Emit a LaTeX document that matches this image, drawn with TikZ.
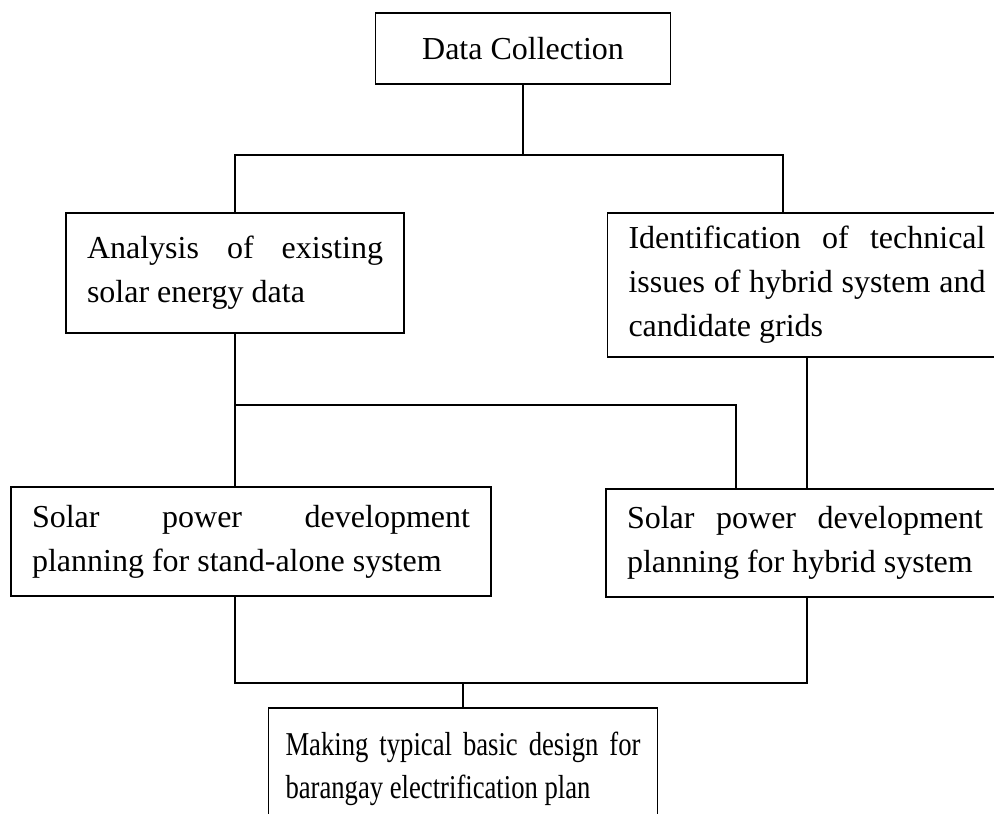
\documentclass[tikz,border=0pt]{standalone}
\usepackage{fontspec}
\setmainfont{Liberation Serif}
\newfontfamily\narrowserif[FakeStretch=0.8]{Liberation Serif}
\tolerance=10000
\hbadness=10000
\hyphenpenalty=10000
\exhyphenpenalty=10000
\tikzset{
  block/.style={
    draw, line width=1.4pt,
    inner xsep=15.75pt, inner ysep=0pt,
    font=\fontsize{24}{33}\selectfont,
    align=justify
  },
  link/.style={line width=1.4pt}
}

\begin{document}
\begin{tikzpicture}[x=0.75pt,y=-0.75pt]
    \fill[white] (0,0) rectangle (994,813);
    \useasboundingbox (0,0) rectangle (994,813);

    \node[block, align=center, minimum width=221.25pt, minimum height=53.25pt] (collect) at (523,48.5) {Data Collection};
    \node[block, text width=222pt, minimum height=90pt] (analysis) at (235,273)
      {Analysis of existing solar energy data};
    \node[block, text width=267.75pt, minimum height=108pt] (ident) at (807,285)
      {Identification of technical issues of hybrid system and candidate grids};
    \node[block, text width=328.5pt, minimum height=81.75pt] (standalone) at (251,541.5)
      {Solar power development planning for stand-alone system};
    \node[block, text width=267pt, minimum height=81pt] (hybrid) at (805,543)
      {Solar power development planning for hybrid system};
    \node[block, inner xsep=12.75pt, text width=266.25pt, minimum height=91.5pt,
          font=\narrowserif\fontsize{25}{32}\selectfont] (design) at (463,769)
      {Making typical basic design for barangay electrification plan};

    % junctions
    \coordinate (fork1) at (523,155);
    \coordinate (fork2) at (235,405);
    \coordinate (tap) at (783,213);
    \coordinate (hyb) at (736,489);
    \coordinate (join) at (463,683);

    \draw[link] (collect) -- (fork1);
    \draw[link] (analysis.north) |- (fork1) -| (tap);
    \draw[link] (analysis.south) -- (standalone.north -| analysis.south);
    \draw[link] (fork2) -| (hyb);
    \draw[link] (ident.south) -- (hybrid.north -| ident.south);
    \draw[link] (standalone.south -| fork2) |- (join) -| (hybrid.south -| ident.south);
    \draw[link] (join) -- (design.north);
  \end{tikzpicture}
\end{document}
